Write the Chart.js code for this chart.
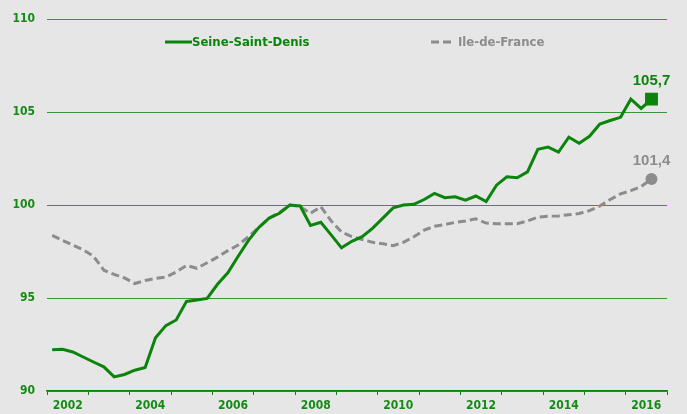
<!DOCTYPE html>
<html>
<head>
<meta charset="utf-8">
<script src="https://cdn.jsdelivr.net/npm/chart.js@4"></script>
<style>
  html, body { margin: 0; padding: 0; background: #e6e6e6; }
  #wrap { width: 687px; height: 414px; }
</style>
</head>
<body>
<div id="wrap"><canvas id="indiceChart" width="687" height="414"></canvas></div>
<script>
// quarterly index, base 100 = 2007, from 2002 Q1 to 2016 Q3
const firstYear = 2002;
const lastYear = 2017;
const yearLabels = ["2002", "2004", "2006", "2008", "2010", "2012", "2014", "2016"];
const yTicks = [90, 95, 100, 105, 110];

const seineSaintDenis = [
  92.22, 92.24, 92.1, 91.83, 91.56, 91.3, 90.76, 90.89, 91.12, 91.26,
  92.86, 93.52, 93.82, 94.82, 94.89, 94.98, 95.74, 96.36, 97.25, 98.1,
  98.8, 99.3, 99.56, 100.0, 99.95, 98.9, 99.08, 98.4, 97.7, 98.05,
  98.3, 98.75, 99.3, 99.85, 100.0, 100.04, 100.3, 100.63, 100.4, 100.45,
  100.27, 100.49, 100.19, 101.07, 101.52, 101.47, 101.79, 103.0, 103.12, 102.85,
  103.65, 103.33, 103.7, 104.36, 104.55, 104.72, 105.7, 105.2, 105.7
];

const ileDeFrance = [
  98.37, 98.1, 97.85, 97.6, 97.25, 96.5, 96.27, 96.08, 95.78, 95.94,
  96.06, 96.13, 96.4, 96.75, 96.6, 96.9, 97.2, 97.55, 97.85, 98.3,
  98.8, 99.3, 99.6, 100.0, 99.92, 99.56, 99.92, 99.15, 98.55, 98.3,
  98.15, 98.0, 97.92, 97.82, 98.0, 98.3, 98.65, 98.86, 98.95, 99.07,
  99.15, 99.26, 99.03, 99.0, 99.0, 99.0, 99.15, 99.35, 99.4, 99.42,
  99.48, 99.55, 99.7, 99.95, 100.3, 100.6, 100.78, 101.0, 101.4
];

const green = "#0b840b";
const gridGreen = "#3b943b";
const textGreen = "#158a15";
const grey = "#8c8c8c";
const tickFont = { family: "'DejaVu Sans Condensed', 'DejaVu Sans', sans-serif", size: 12, weight: "bold" };

// each quarter sits in the middle of its slot on the year axis
const toPoints = (vals) => vals.map((v, i) => ({ x: firstYear + (i + 0.5) / 4, y: v }));
const lastOnly = (size) => (ctx) => (ctx.dataIndex === ctx.dataset.data.length - 1 ? size : 0);

// legend drawn inside the plot, under the 110 line
const innerLegend = {
  id: "innerLegend",
  afterDraw(chart) {
    const ctx = chart.ctx;
    const items = [
      { ds: chart.data.datasets[0], x: 165, len: 27, gap: 0 },
      { ds: chart.data.datasets[1], x: 431, len: 24, gap: 3 },
    ];
    const y = 42;
    ctx.save();
    items.forEach((it) => {
      ctx.beginPath();
      ctx.strokeStyle = it.ds.borderColor;
      ctx.lineWidth = 3;
      ctx.setLineDash(it.ds.borderDash || []);
      ctx.moveTo(it.x, y);
      ctx.lineTo(it.x + it.len, y);
      ctx.stroke();
      ctx.setLineDash([]);
      ctx.fillStyle = it.ds.borderColor;
      ctx.font = "bold 13px 'DejaVu Sans Condensed', 'DejaVu Sans', sans-serif";
      ctx.textBaseline = "middle";
      ctx.textAlign = "left";
      ctx.fillText(it.ds.label, it.x + it.len + it.gap, y + 1);
    });
    ctx.restore();
  },
};

// value written above the last point of each line
const endLabels = {
  id: "endLabels",
  afterDatasetsDraw(chart) {
    const ctx = chart.ctx;
    ctx.save();
    ctx.font = "bold 15px 'Liberation Sans', Arial, sans-serif";
    ctx.textAlign = "center";
    ctx.textBaseline = "middle";
    chart.data.datasets.forEach((ds, i) => {
      const meta = chart.getDatasetMeta(i);
      const pt = meta.data[meta.data.length - 1];
      const v = ds.data[ds.data.length - 1].y;
      ctx.fillStyle = ds.borderColor;
      ctx.fillText(v.toFixed(1).replace(".", ","), pt.x, pt.y - 18);
    });
    ctx.restore();
  },
};

const ctx = document.getElementById("indiceChart").getContext("2d");

const indiceChart = new Chart(ctx, {
  type: "line",
  data: {
    datasets: [
      {
        label: "Seine-Saint-Denis",
        data: toPoints(seineSaintDenis),
        borderColor: green,
        backgroundColor: green,
        borderWidth: 3,
        pointStyle: "rect",
        pointRadius: lastOnly(7),
        pointHoverRadius: 0,
        tension: 0,
      },
      {
        label: "Ile-de-France",
        data: toPoints(ileDeFrance),
        borderColor: grey,
        backgroundColor: grey,
        borderWidth: 3,
        borderDash: [8, 4],
        pointStyle: "circle",
        pointRadius: lastOnly(4.5),
        pointHoverRadius: 0,
        tension: 0,
      },
    ],
  },
  options: {
    responsive: false,
    animation: false,
    layout: { padding: { top: 16, right: 20, left: 0, bottom: 0 } },
    plugins: {
      legend: { display: false },
      tooltip: { enabled: false },
    },
    scales: {
      x: {
        type: "linear",
        min: firstYear,
        max: lastYear,
        afterBuildTicks: (scale) => {
          const t = [];
          for (let v = firstYear; v <= lastYear; v += 0.5) t.push({ value: v });
          scale.ticks = t;
        },
        afterFit: (scale) => { scale.height = 23; },
        ticks: {
          autoSkip: false,
          maxRotation: 0,
          padding: 4,
          color: textGreen,
          font: tickFont,
          callback: (value) => {
            const y = String(Math.floor(value));
            return value % 1 === 0.5 && yearLabels.includes(y) ? y : "";
          },
        },
        grid: {
          drawOnChartArea: false,
          drawTicks: true,
          tickLength: 4,
          color: (c) => (c.tick && Number.isInteger(c.tick.value) ? green : "rgba(0,0,0,0)"),
        },
        border: { display: true, color: green, width: 1.5 },
      },
      y: {
        min: yTicks[0],
        max: yTicks[yTicks.length - 1],
        afterFit: (scale) => { scale.width = 47; },
        ticks: {
          stepSize: 5,
          padding: 12,
          color: textGreen,
          font: tickFont,
        },
        grid: { color: gridGreen, lineWidth: 1, drawTicks: false },
        border: { display: false },
      },
    },
  },
  plugins: [innerLegend, endLabels],
});
</script>
</body>
</html>
